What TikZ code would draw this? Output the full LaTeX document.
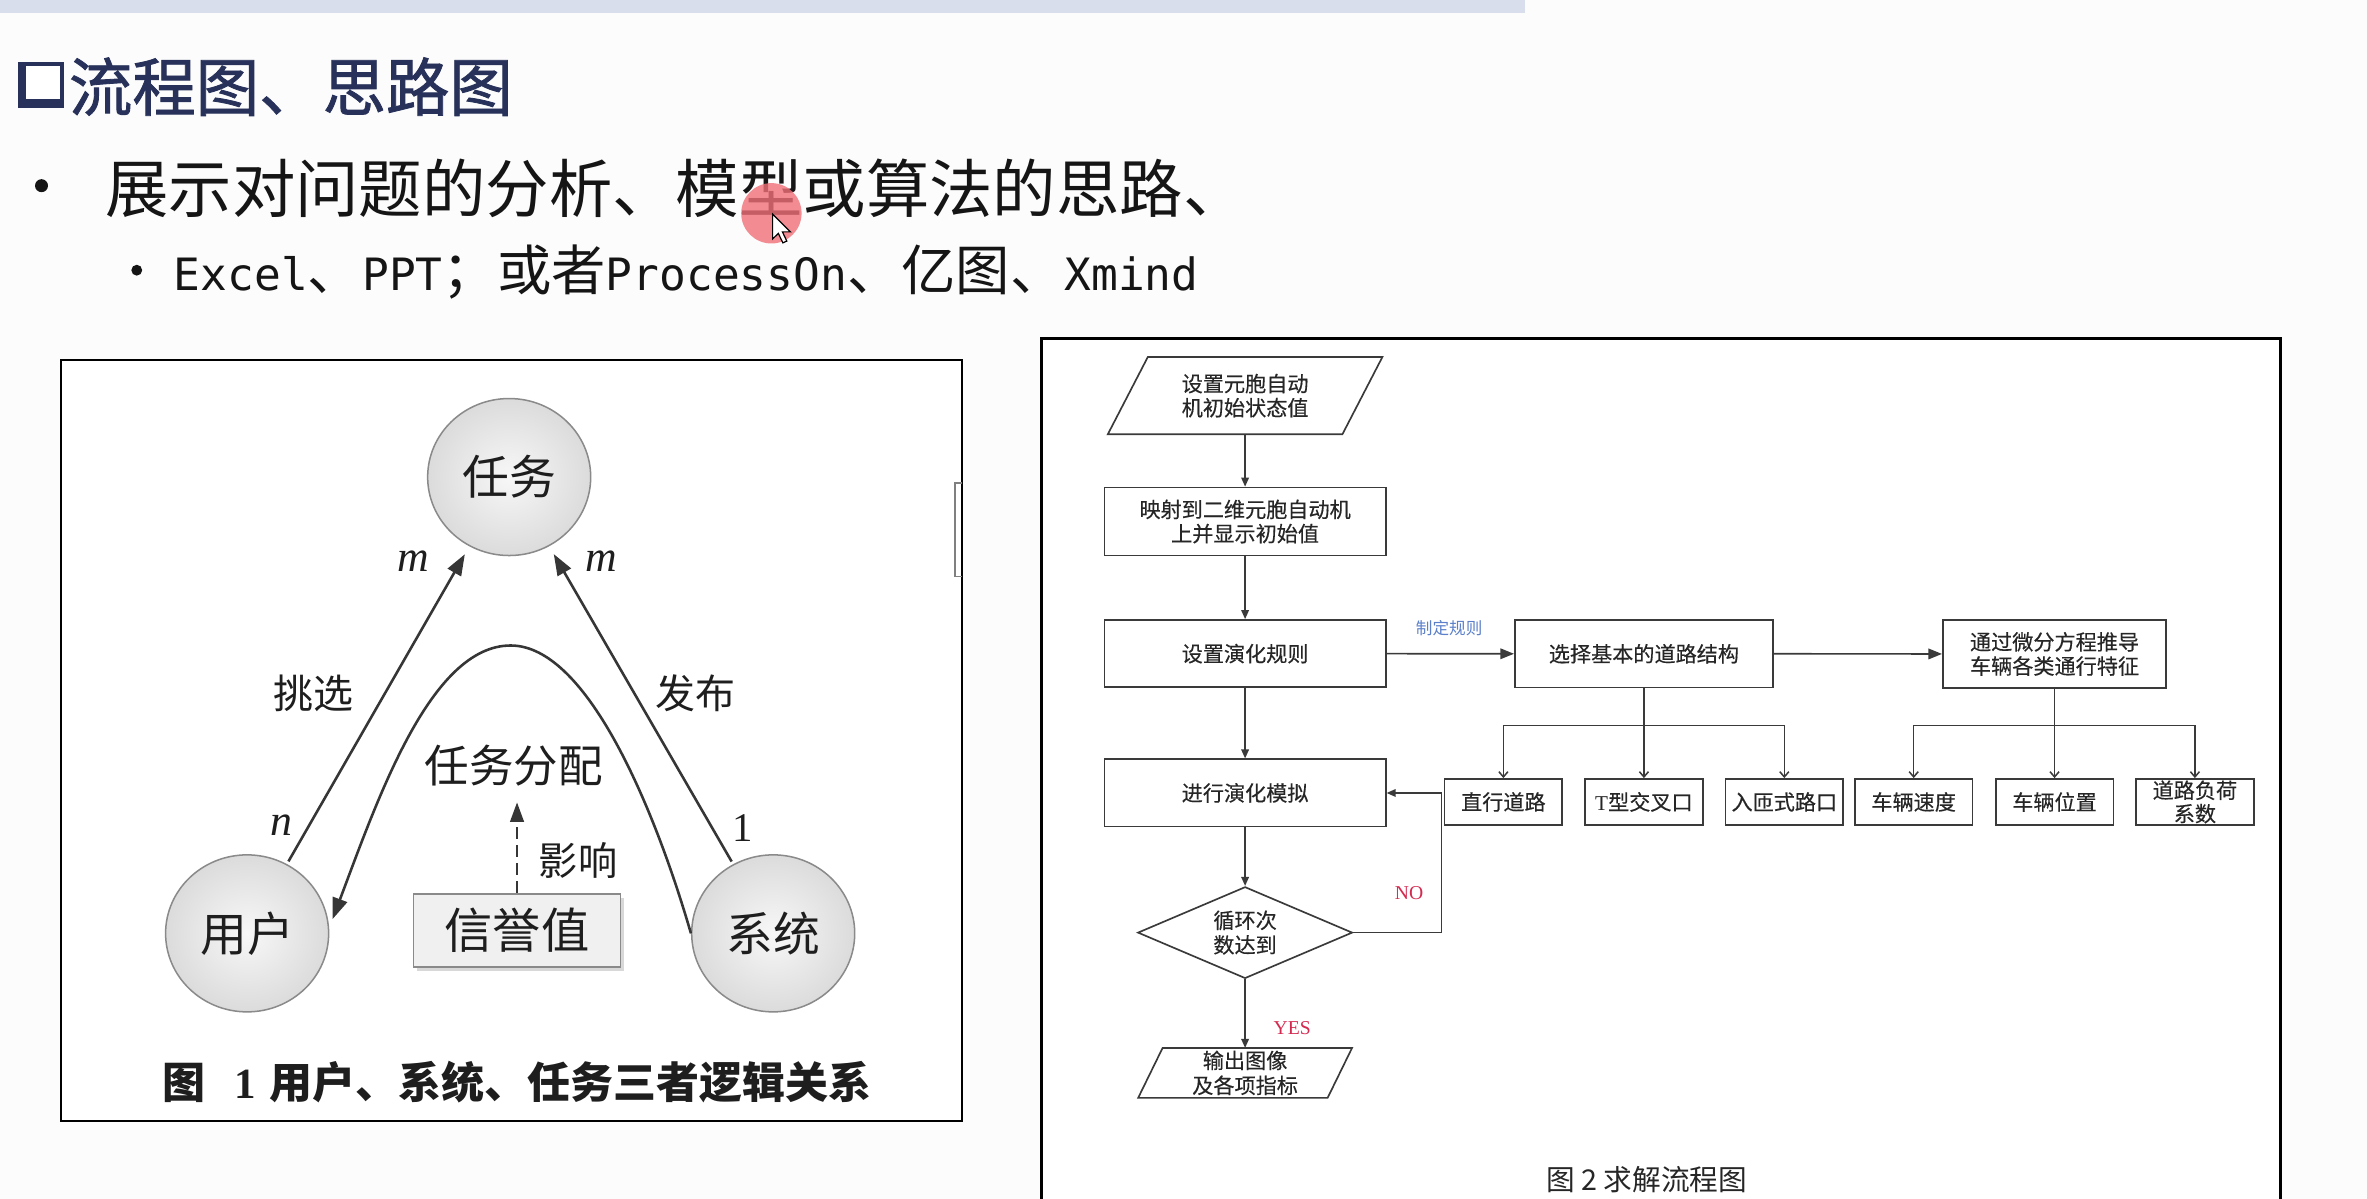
\documentclass[tikz,border=0pt]{standalone}
\usepackage{fontspec}
\usetikzlibrary{arrows.meta,shapes.geometric,shadows,calc}
\setmainfont{Noto Sans CJK SC}
\newfontfamily\cjk{Noto Sans CJK SC}
\newfontfamily\cjkheavy{Noto Sans CJK SC}[FakeBold=1.3]
\newfontfamily\cjkfc{Noto Sans CJK SC}[FakeBold=0.35]
\newfontfamily\tms{Liberation Serif}
\newfontfamily\dmono{DejaVu Sans Mono}
\newcommand\fsz[2]{\fontsize{#1}{#2}\selectfont}
\definecolor{slidebg}{HTML}{FCFCFC}
\definecolor{topbar}{HTML}{D8DEEB}
\definecolor{navy}{HTML}{27315A}
\definecolor{bodyink}{HTML}{151515}
\definecolor{figink}{HTML}{1E1E1E}
\definecolor{relline}{HTML}{363636}
\definecolor{entline}{HTML}{8A8A8A}
\definecolor{fcline}{HTML}{3A3A3A}
\definecolor{fctext}{HTML}{262626}
\definecolor{nored}{HTML}{D42A50}
\definecolor{ruleblue}{HTML}{5B80C9}
\definecolor{pointer}{HTML}{F07078}
\begin{document}
\begin{tikzpicture}[x=1pt,y=-1pt,
  ent/.style={ellipse, draw=entline, line width=1, minimum width=108, minimum height=104,
    inner sep=0, inner color=white!97!black, outer color=white!86!black,
    font=\cjk\fsz{31}{31}, text=figink},
  relarrow/.style={draw=relline, line width=1.7, -{Triangle[length=14pt,width=10pt]}},
  flabel/.style={inner sep=0, text=figink},
  fcbox/.style={draw=fcline, line width=1.1, fill=white, inner sep=0, align=center,
    font=\cjkfc\fsz{14}{16}, text=fctext},
  fcchild/.style={fcbox, minimum width=78, minimum height=30.5, font=\cjkfc\fsz{14}{15.5}},
  fcshape/.style={inner sep=0, align=center, font=\cjkfc\fsz{14}{16}, text=fctext},
  fcflow/.style={draw=fcline, line width=1.1, -{Triangle[length=6pt,width=5pt]}},
  fcwide/.style={draw=fcline, line width=1.1, -{Triangle[length=9pt,width=7pt]}},
  fcbranch/.style={draw=fcline, line width=1, -{Straight Barb[length=3.5pt,width=6pt]}},
]
\useasboundingbox (0,0) rectangle (1568,794);
\fill[slidebg] (0,0) rectangle (1568,794);
\fill[topbar] (0,0) rectangle (1010,8.4);

% ---------- heading and bullets ----------
\fill[navy] (11.8,40.9) rectangle (42.6,71.8);
\fill[white] (17.4,43.8) rectangle (39.6,65.8);
\node[anchor=west, inner sep=0, text=navy, font=\cjkheavy\fsz{42}{42}] (heading) at (45.5,57.4) {流程图、思路图};

\fill[bodyink] (27.5,123) circle (4.3);
\node[anchor=west, inner sep=0, text=bodyink, font=\cjk\fsz{42}{42}] (point) at (69.5,124.5)
  {展示对问题的分析、模型或算法的思路、};
\fill[bodyink] (90.6,179) circle (3.6);
\node[anchor=west, inner sep=0, text=bodyink, font=\cjk\fsz{36}{36}] (tools) at (115,180)
  {{\dmono\fsz{29.5}{36}Excel}、{\dmono\fsz{29.5}{36}PPT}；或者{\dmono\fsz{29.5}{36}ProcessOn}、亿图、{\dmono\fsz{29.5}{36}Xmind}};

% mouse pointer highlight
\fill[pointer, opacity=0.8] (511,141.3) circle (20);
\filldraw[fill=white, draw=black, line width=0.8] (511.8,141.8) -- ++(0,16.5) -- ++(3.8,-3.7)
  -- ++(3,6.3) -- ++(2.6,-1.2) -- ++(-2.9,-6.1) -- ++(5.3,0) -- cycle;

% ---------- figure 1: user / system / task ----------
\fill[white] (40.1,238.4) rectangle (637.3,742.7);
\draw[black, line width=1.3] (40.1,238.4) rectangle (637.3,742.7);
\draw[gray, line width=0.9] (637.3,320) -- (632.6,320) -- (632.6,382) -- (637.3,382);

\node[ent] (task) at (337.3,316) {任务};
\node[ent] (user) at (163.7,618.3) {用户};
\node[ent] (sys) at (512.2,618.3) {系统};
\node[draw=entline, line width=1, fill=white!94!black, minimum width=137, minimum height=48.5,
  inner sep=0, font=\cjk\fsz{32}{32}, text=figink,
  drop shadow={shadow xshift=2.5pt, shadow yshift=-2.5pt, fill=black!30, opacity=0.5}]
  (rep) at (342.5,616.3) {信誉值};

\draw[relarrow, shorten >=6pt, shorten <=2pt] (user) -- (task);
\draw[relarrow, shorten >=6pt, shorten <=2pt] (sys) -- (task);
\draw[relarrow] (sys.west) .. controls (435,540) and (390,427.6) .. (338.3,427.6)
  .. controls (285,427.6) and (250,530) .. ($(user.10)+(3,0)$);

\coordinate (infl) at (342.5,531.5);
\draw[relarrow, dash pattern=on 8pt off 4pt, -{Triangle[length=13pt,width=9pt]}] (rep.north) -- (infl);

\node[flabel, font=\tms\itshape\fsz{29}{29}] (mu) at (274,371.9) {m};
\node[flabel, font=\tms\itshape\fsz{29}{29}] (ms) at (398.5,371.9) {m};
\node[flabel, font=\tms\itshape\fsz{29}{29}] (nu) at (186.7,546.6) {n};
\node[flabel, font=\tms\fsz{27}{27}] (one) at (491.8,548.2) {1};
\node[flabel, font=\cjk\fsz{26.5}{26.5}] (pick) at (208,459.3) {挑选};
\node[flabel, font=\cjk\fsz{26.5}{26.5}] (pub) at (460.7,459.3) {发布};
\node[flabel, font=\cjk\fsz{29.5}{29.5}] (alloc) at (340.2,507) {任务分配};
\node[flabel, font=\cjk\fsz{26}{26}] (aff) at (383,569.7) {影响};

\node[flabel, anchor=west, font=\cjk\bfseries\fsz{28.5}{28.5}] (cap1) at (107.6,716.5)
  {图\hspace{18.8pt}{\tms\bfseries 1}\hspace{8.9pt}用户、系统、任务三者逻辑关系};

% ---------- figure 2: solution flowchart ----------
\fill[white] (690,224.1) rectangle (1510.5,800);
\draw[black, line width=1.7] (690,800) -- (690,224.1) -- (1510.5,224.1) -- (1510.5,800);

\node[fcshape, minimum width=181.5, minimum height=50.8] (p1) at (824.8,262.1) {设置元胞自动\\机初始状态值};
\draw[fcline, line width=1.1] ($(p1.north west)+(26.5,0)$) -- (p1.north east)
  -- ($(p1.south east)+(-26.5,0)$) -- (p1.south west) -- cycle;
\node[fcbox, minimum width=186.4, minimum height=45.1] (b2) at (824.8,345.5) {映射到二维元胞自动机\\上并显示初始值};
\node[fcbox, minimum width=186.4, minimum height=44.6] (b3) at (824.8,433) {设置演化规则};
\node[fcbox, minimum width=186.4, minimum height=44.6] (b4) at (824.8,525.3) {进行演化模拟};
\node[diamond, aspect=2.34, draw=fcline, line width=1.1, fill=white, minimum width=142.2,
  minimum height=60.7, inner sep=0, align=center, font=\cjkfc\fsz{14}{16.3}, text=fctext]
  (dia) at (824.8,617.8) {循环次\\数达到};
\node[fcshape, minimum width=141.3, minimum height=32.7, font=\cjkfc\fsz{14}{16.5}] (p2) at (824.8,710.75) {输出图像\\及各项指标};
\draw[fcline, line width=1.1] ($(p2.north west)+(16.2,0)$) -- (p2.north east)
  -- ($(p2.south east)+(-16.2,0)$) -- (p2.south west) -- cycle;

\node[fcbox, minimum width=171.1, minimum height=44.8] (sel) at (1089,433.1) {选择基本的道路结构};
\node[fcbox, minimum width=148, minimum height=45] (pass) at (1361,433.2) {通过微分方程推导\\车辆各类通行特征};

\node[fcchild] (road) at (995.9,531.25) {直行道路};
\node[fcchild] (tee) at (1089,531.25) {{\tms T}型交叉口};
\node[fcchild] (ramp) at (1182,531.25) {入匝式路口};
\node[fcchild] (speed) at (1267.7,531.25) {车辆速度};
\node[fcchild] (pos) at (1361,531.25) {车辆位置};
\node[fcchild] (load) at (1454,531.25) {道路负荷\\系数};

\draw[fcflow] (p1.south) -- (b2.north);
\draw[fcflow] (b2.south) -- (b3.north);
\draw[fcflow] (b3.south) -- (b4.north);
\draw[fcflow] (b4.south) -- (dia.north);
\draw[fcflow] (dia.south) -- (p2.north);
\draw[fcwide] (b3.east) -- (sel.west);
\draw[fcwide] (sel.east) -- (pass.west);

\coordinate (loopc) at (954.8,617.8);
\draw[fcflow] (dia.east) -- (loopc) |- (b4.east);

\coordinate (j1) at (1089,480.7);
\draw[fcbranch] (sel.south) -- (tee.north);
\draw[fcbranch] (j1) -| (road.north);
\draw[fcbranch] (j1) -| (ramp.north);
\coordinate (j2) at (1361,480.7);
\draw[fcbranch] (pass.south) -- (pos.north);
\draw[fcbranch] (j2) -| (speed.north);
\draw[fcbranch] (j2) -| (load.north);

\node[inner sep=0, text=ruleblue, font=\cjk\fsz{11}{11}] (rulelbl) at (960,416.2) {制定规则};
\node[inner sep=0, text=nored, font=\tms\fsz{13}{13}] (nolbl) at (933.4,591.8) {NO};
\node[inner sep=0, text=nored, font=\tms\fsz{13}{13}] (yeslbl) at (856,681.2) {YES};
\node[inner sep=0, text=fctext, font=\cjk\fsz{19}{19}] (cap2) at (1091,781.5) {图 2 求解流程图};
\end{tikzpicture}
\end{document}
